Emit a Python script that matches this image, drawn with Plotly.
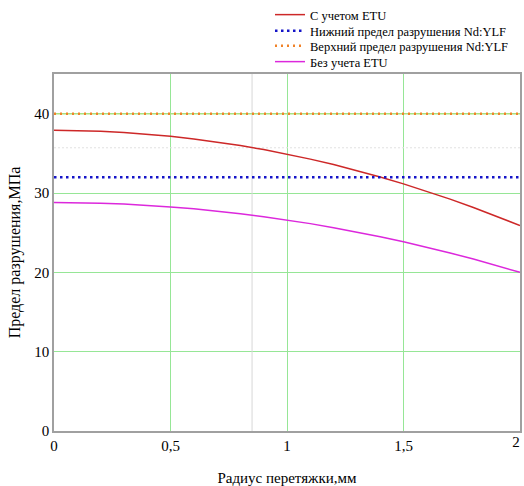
import plotly.graph_objects as go

radius = [0.0, 0.1, 0.2, 0.3, 0.4, 0.5, 0.6, 0.7, 0.8, 0.9, 1.0,
          1.1, 1.2, 1.3, 1.4, 1.5, 1.6, 1.7, 1.8, 1.9, 2.0]
with_etu = [37.9, 37.87, 37.78, 37.63, 37.42, 37.15, 36.82, 36.43, 35.98, 35.47, 34.9,
            34.27, 33.58, 32.83, 32.02, 31.15, 30.22, 29.23, 28.18, 27.07, 25.9]
without_etu = [28.8, 28.78, 28.71, 28.6, 28.45, 28.25, 28.01, 27.72, 27.39, 27.02, 26.6,
               26.14, 25.63, 25.08, 24.49, 23.85, 23.17, 22.44, 21.67, 20.86, 20.0]
lower_limit = 32.0
upper_limit = 40.0
marker_x = 0.85
marker_y = 35.7

x_ticks = [0, 0.5, 1, 1.5, 2]
x_tick_labels = ["0", "0,5", "1", "1,5", "2"]
y_ticks = [0, 10, 20, 30, 40]
y_tick_labels = ["0", "10", "20", "30", "40"]

FONT = "Liberation Serif, Times New Roman, serif"

fig = go.Figure()
# Mathcad-style marker lines
fig.add_trace(go.Scatter(x=[marker_x, marker_x], y=[0, 45], mode="lines",
                         line=dict(color="rgb(215,215,215)", width=1),
                         showlegend=False, hoverinfo="skip"))
fig.add_trace(go.Scatter(x=[0, 2], y=[marker_y, marker_y], mode="lines",
                         line=dict(color="rgb(225,225,225)", width=1, dash="2px,2px"),
                         showlegend=False, hoverinfo="skip"))
fig.add_trace(go.Scatter(x=[0, 2], y=[upper_limit, upper_limit], mode="lines",
                         line=dict(color="rgb(170,225,130)", width=1.5),
                         showlegend=False, hoverinfo="skip"))

fig.add_trace(go.Scatter(x=radius, y=with_etu, mode="lines", name="С учетом ETU",
                         line=dict(color="rgb(205,40,40)", width=1.5), legend="legend"))
fig.add_trace(go.Scatter(x=[radius[0], radius[-1]], y=[lower_limit, lower_limit], mode="lines",
                         name="Нижний предел разрушения Nd:YLF",
                         line=dict(color="rgb(20,20,200)", width=2.5, dash="2.5px,3.5px"),
                         legend="legend2"))
fig.add_trace(go.Scatter(x=[radius[0], radius[-1]], y=[upper_limit, upper_limit], mode="lines",
                         name="Верхний предел разрушения Nd:YLF",
                         line=dict(color="rgb(240,130,40)", width=2.5, dash="2px,4px"),
                         legend="legend3"))
fig.add_trace(go.Scatter(x=radius, y=without_etu, mode="lines", name="Без учета ETU",
                         line=dict(color="rgb(220,40,220)", width=1.5), legend="legend4"))
# helper trace for the overlay axis carrying the last tick label
fig.add_trace(go.Scatter(x=[radius[-1]], y=[upper_limit], mode="lines", xaxis="x2",
                         line=dict(width=0), showlegend=False, hoverinfo="skip"))

W, H = 524, 486
def leg(ypx):
    return dict(x=0.4635, y=1 - ypx / H, xref="paper", yref="container",
                xanchor="left", yanchor="middle",
                font=dict(family=FONT, size=12.5), bgcolor="rgba(0,0,0,0)",
                itemwidth=30)

fig.update_layout(
    width=W, height=H,
    margin=dict(l=54, r=4, t=74, b=55, autoexpand=False),
    paper_bgcolor="white", plot_bgcolor="white",
    font=dict(family=FONT, size=15, color="black"),
    legend=leg(15), legend2=leg(31), legend3=leg(46), legend4=leg(62),
    xaxis=dict(range=[0, 2], tickvals=x_ticks[:-1], ticktext=x_tick_labels[:-1],
               showgrid=True, gridcolor="rgb(150,230,150)", gridwidth=1,
               showline=True, linecolor="rgb(160,160,160)", linewidth=1.5, mirror=True,
               zeroline=False, ticks="", ticklen=0, automargin=False,
               title=dict(text="Радиус перетяжки,мм", font=dict(family=FONT, size=15), standoff=28)),
    xaxis2=dict(range=[0, 2], overlaying="x", anchor="y", side="bottom",
                tickvals=x_ticks[-1:], ticktext=x_tick_labels[-1:], ticklabelshift=-4,
                showgrid=False, showline=False, zeroline=False, ticks="", ticklen=0,
                automargin=False, tickfont=dict(family=FONT, size=15)),
    yaxis=dict(range=[0, 45], tickvals=y_ticks, ticktext=y_tick_labels,
               showgrid=True, gridcolor="rgb(150,230,150)", gridwidth=1,
               showline=True, linecolor="rgb(160,160,160)", linewidth=1.5, mirror=True,
               zeroline=False, ticks="", ticklen=0, automargin=False,
               title=dict(text="Предел разрушения,МПа", font=dict(family=FONT, size=16), standoff=10)),
)

fig.write_html("out.html", config={"displayModeBar": False},
               post_script="document.body.style.margin='0';document.body.style.overflow='hidden';")
